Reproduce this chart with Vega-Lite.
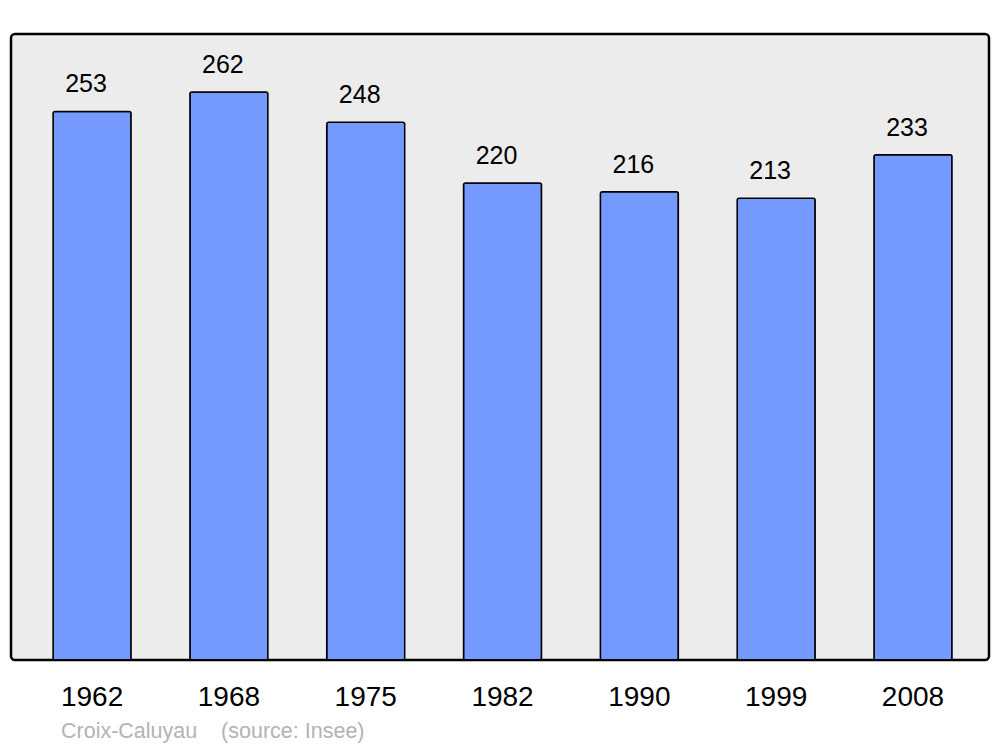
{
  "$schema": "https://vega.github.io/schema/vega-lite/v6.json",
  "autosize": "none",
  "width": 978,
  "height": 626,
  "padding": {"left": 11, "top": 34, "right": 11, "bottom": 87},
  "background": "white",
  "config": {
    "view": {"fill": "#ececec", "stroke": "#000000", "strokeWidth": 2.5, "cornerRadius": 4},
    "font": "Liberation Sans"
  },
  "title": {
    "text": "Croix-Caluyau\u00a0\u00a0\u00a0\u00a0(source: Insee)",
    "orient": "bottom",
    "anchor": "start",
    "frame": "group",
    "dx": 50,
    "offset": 10,
    "fontSize": 21.5,
    "fontWeight": "normal",
    "color": "#b3b3b3",
    "font": "Liberation Sans"
  },
  "data": {
    "values": [
      {"year": "1962", "population": 253},
      {"year": "1968", "population": 262},
      {"year": "1975", "population": 248},
      {"year": "1982", "population": 220},
      {"year": "1990", "population": 216},
      {"year": "1999", "population": 213},
      {"year": "2008", "population": 233}
    ]
  },
  "encoding": {
    "x": {
      "field": "year",
      "type": "nominal",
      "sort": null,
      "scale": {"paddingInner": 0.43, "paddingOuter": 0.289, "align": 0.532},
      "axis": {
        "title": null,
        "domain": false,
        "ticks": false,
        "tickSize": 0,
        "labelAngle": 0,
        "labelFontSize": 28,
        "labelColor": "#000000",
        "labelBaseline": "alphabetic",
        "labelPadding": 45,
        "labelDx": -2,
        "labelFont": "Liberation Sans"
      }
    },
    "y": {
      "field": "population",
      "type": "quantitative",
      "scale": {"domain": [0, 288.7], "nice": false, "zero": true},
      "axis": null
    }
  },
  "layer": [
    {
      "mark": {"type": "bar", "fill": "#7499ff", "stroke": "#000000", "strokeWidth": 1.5, "cornerRadius": 2}
    },
    {
      "mark": {"type": "text", "fontSize": 25, "color": "#000000", "baseline": "alphabetic", "dy": -19, "dx": -6, "font": "Liberation Sans"},
      "encoding": {"text": {"field": "population", "type": "quantitative"}}
    }
  ]
}
